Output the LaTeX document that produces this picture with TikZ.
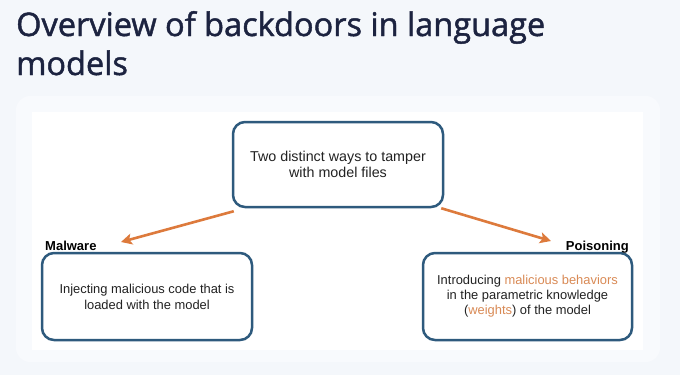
\documentclass[tikz,border=0pt]{standalone}
\usepackage{fontspec}
\setmainfont{Liberation Sans}
\newfontfamily\titlefont[FakeBold=1.4]{Open Sans}
\usetikzlibrary{arrows.meta}
\definecolor{bgcol}{HTML}{F4F7FB}
\definecolor{halocol}{HTML}{F8FAFD}
\definecolor{titlecol}{HTML}{1C2340}
\definecolor{boxcol}{HTML}{2E5A7D}
\definecolor{arrcol}{HTML}{DD7A3C}
\definecolor{hlcol}{HTML}{D98A55}
\definecolor{txtcol}{HTML}{222222}
\tikzset{
  box/.style={draw=boxcol, line width=2.5pt, rounded corners=12pt, fill=white,
    align=center, text=txtcol, inner sep=0pt},
  lbl/.style={font=\fontsize{13}{15}\selectfont\bfseries, text=black, inner sep=0pt},
  ttl/.style={anchor=base west, inner sep=0pt, text=titlecol,
    font=\titlefont\fontsize{32.5}{39}\selectfont},
  arr/.style={draw=arrcol, line width=2.6pt, -{Stealth[length=11pt,width=11pt,inset=2.5pt]}},
}
\begin{document}
\begin{tikzpicture}[x=1pt,y=-1pt]
\useasboundingbox (0,0) rectangle (680,375);
\fill[bgcol] (0,0) rectangle (680,375);
\fill[halocol, rounded corners=14pt] (16,96) rectangle (660,362);
\fill[white] (32,112) rectangle (643,350);
\node[ttl] (title1) at (16,36) {Overview of backdoors in language};
\node[ttl] (title2) at (16,75) {models};
\node[box, minimum width=210pt, minimum height=85pt,
  font=\fontsize{14.3}{16}\selectfont] (top) at (338,164.5)
  {Two distinct ways to tamper\\with model files};
\node[box, minimum width=210pt, minimum height=87pt,
  font=\fontsize{12.9}{16}\selectfont] (left) at (147,296.5)
  {Injecting malicious code that is\\loaded with the model};
\node[box, minimum width=209pt, minimum height=87pt,
  font=\fontsize{12.9}{15}\selectfont] (right) at (527.5,296.5)
  {Introducing \textcolor{hlcol}{malicious behaviors}\\in the parametric knowledge\\(\textcolor{hlcol}{weights}) of the model};
\node[lbl, anchor=base west] (mal) at (45,250) {Malware};
\node[lbl, anchor=base east] (poi) at (629,250) {Poisoning};
\coordinate (ltip) at (121,242);
\coordinate (rtip) at (551,241);
\draw[arr] ([shift={(2,3)}]top.south west) -- (ltip);
\draw[arr] ([shift={(-3,0)}]top.south east) -- (rtip);
\end{tikzpicture}
\end{document}
